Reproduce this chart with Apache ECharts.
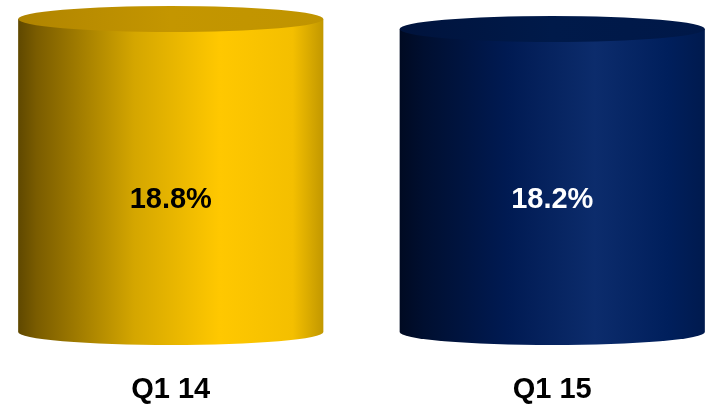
<!DOCTYPE html>
<html>
<head>
<meta charset="utf-8">
<style>
  html, body { margin: 0; padding: 0; background: #ffffff; }
  #chart { width: 708px; height: 405px; }
</style>
<script src="https://cdn.jsdelivr.net/npm/echarts@6/dist/echarts.min.js"></script>
</head>
<body>
<div id="chart"></div>
<script>
// Quarterly ratio, shown as cylinders
const categories = ['Q1 14', 'Q1 15'];
const values = [18.8, 18.2];

// Per-cylinder styling
const sideStops = [
  [[0, '#5f4800'], [0.06, '#7a5c00'], [0.38, '#d4a600'], [0.66, '#ffc800'], [0.9, '#f4bf00'], [1, '#c29800']],
  [[0, '#000a22'], [0.08, '#000f30'], [0.35, '#001a52'], [0.64, '#0c2c6c'], [0.88, '#001f5c'], [1, '#001a4e']]
];
const topStops = [
  [[0, '#b08400'], [0.5, '#c49600'], [1, '#c09400']],
  [[0, '#00133c'], [0.5, '#001a4a'], [1, '#001848']]
];
const labelColors = ['#000000', '#ffffff'];

const LABEL_LEVEL = 7.9;   // axis value where the percentage text sits
const BODY_RATIO = 0.8;    // cylinder width as a share of the category band
const CAP_RY = 13;         // vertical radius of the elliptical ends

const chart = echarts.init(document.getElementById('chart'), null, { renderer: 'canvas' });

function renderCylinder(params, api) {
  const idx = api.value(0);
  const val = api.value(1);
  const top = api.coord([idx, val]);
  const base = api.coord([idx, 0]);
  const band = api.size([1, 0])[0];
  const rx = band * BODY_RATIO / 2;
  const cx = top[0];
  const left = cx - rx, right = cx + rx;
  const ty = top[1], by = base[1];
  const ry = CAP_RY;

  const sideGrad = new echarts.graphic.LinearGradient(0, 0, 1, 0,
    sideStops[idx].map(s => ({ offset: s[0], color: s[1] })));
  const topGrad = new echarts.graphic.LinearGradient(0, 0, 1, 0,
    topStops[idx].map(s => ({ offset: s[0], color: s[1] })));

  const labelPt = api.coord([idx, LABEL_LEVEL]);

  return {
    type: 'group',
    children: [
      {
        // body: straight sides plus the lower half of the base ellipse
        type: 'path',
        shape: {
          pathData: 'M' + left + ' ' + ty + ' L' + left + ' ' + by +
            ' A' + rx + ' ' + ry + ' 0 0 0 ' + right + ' ' + by +
            ' L' + right + ' ' + ty + ' Z'
        },
        style: { fill: sideGrad }
      },
      {
        // lid
        type: 'path',
        shape: {
          pathData: 'M' + left + ' ' + ty +
            ' A' + rx + ' ' + ry + ' 0 0 1 ' + right + ' ' + ty +
            ' A' + rx + ' ' + ry + ' 0 0 1 ' + left + ' ' + ty + ' Z'
        },
        style: { fill: topGrad }
      },
      {
        type: 'text',
        x: cx,
        y: labelPt[1],
        style: {
          text: val.toFixed(1) + '%',
          fill: labelColors[idx],
          font: 'bold 29px "Liberation Sans", Arial, sans-serif',
          align: 'center',
          verticalAlign: 'middle'
        }
      }
    ]
  };
}

chart.setOption({
  animation: false,
  grid: { left: -20, right: -35, top: 0, bottom: 73, outerBoundsMode: 'none' },
  xAxis: {
    type: 'category',
    data: categories,
    axisLine: { show: false },
    axisTick: { show: false },
    axisLabel: {
      margin: 43,
      color: '#000000',
      fontFamily: '"Liberation Sans", Arial, sans-serif',
      fontWeight: 'bold',
      fontSize: 29
    }
  },
  yAxis: {
    type: 'value',
    min: 0,
    max: 19.94,
    show: false,
    splitLine: { show: false }
  },
  series: [{
    type: 'custom',
    renderItem: renderCylinder,
    data: values.map((v, i) => [i, v]),
    clip: false
  }]
});
</script>
</body>
</html>
